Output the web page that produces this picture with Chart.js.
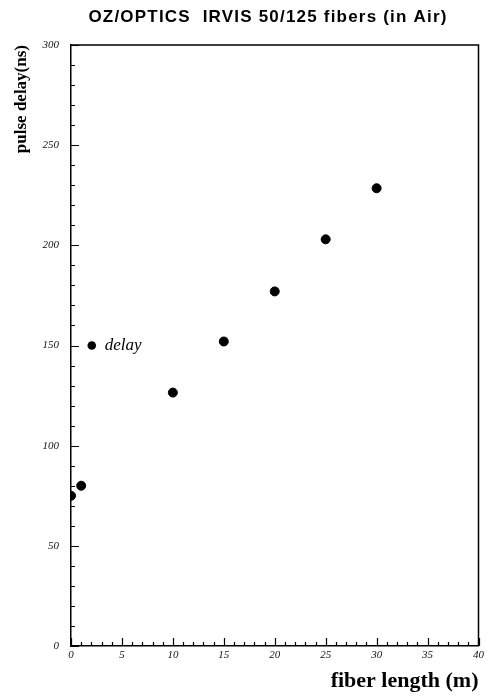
<!DOCTYPE html>
<html>
<head>
<meta charset="utf-8">
<script src="https://cdn.jsdelivr.net/npm/chart.js@4.4.0/dist/chart.umd.min.js"></script>
<style>
  html, body { margin: 0; padding: 0; background: #fff; }
  #wrap { width: 487px; height: 699px; }
</style>
</head>
<body>
<div id="wrap"><canvas id="c" width="487" height="699"></canvas></div>
<script>
// ---- data ----
const fiberLength = [0, 1, 10, 15, 20, 25, 30];      // m
const pulseDelay  = [75, 80, 126.5, 152, 177, 203, 228.5]; // ns
const seriesName = 'delay';
const chartTitle = 'OZ/OPTICS  IRVIS 50/125 fibers (in Air)';
const xTitle = 'fiber length (m)';
const yTitle = 'pulse delay(ns)';
const xRange = [0, 40];
const yRange = [0, 300];
const xMajor = 5, xMinor = 1;
const yMajor = 50, yMinor = 10;

const points = fiberLength.map((x, i) => ({ x: x, y: pulseDelay[i] }));

const framePlugin = {
  id: 'frame',
  afterDraw(chart) {
    const ctx = chart.ctx;
    const a = chart.chartArea;
    const xs = chart.scales.x, ys = chart.scales.y;
    ctx.save();
    ctx.strokeStyle = '#000';
    // top & right frame lines
    ctx.lineWidth = 1.5;
    ctx.beginPath();
    ctx.moveTo(a.left, a.top); ctx.lineTo(a.right, a.top); ctx.lineTo(a.right, a.bottom);
    ctx.stroke();
    // inward ticks
    ctx.lineWidth = 1.2;
    ctx.beginPath();
    for (let v = yRange[0]; v <= yRange[1] + 1e-9; v += yMinor) {
      const p = Math.round(ys.getPixelForValue(v)) + 0.5;
      const len = (Math.abs(v % yMajor) < 1e-9) ? 8 : 4;
      ctx.moveTo(a.left, p); ctx.lineTo(a.left + len, p);
    }
    for (let v = xRange[0]; v <= xRange[1] + 1e-9; v += xMinor) {
      const p = Math.round(xs.getPixelForValue(v)) + 0.5;
      const len = (Math.abs(v % xMajor) < 1e-9) ? 8 : 4;
      ctx.moveTo(p, a.bottom); ctx.lineTo(p, a.bottom - len);
    }
    ctx.stroke();
    // legend inside plot
    const lx = a.left + 0.051 * (a.right - a.left);
    const ly = a.top + 0.5 * (a.bottom - a.top);
    ctx.fillStyle = '#000';
    ctx.beginPath();
    ctx.arc(lx, ly, 4.3, 0, Math.PI * 2);
    ctx.fill();
    ctx.font = 'italic 17px "Liberation Serif"';
    ctx.textBaseline = 'middle';
    ctx.textAlign = 'left';
    ctx.fillText(seriesName, lx + 13, ly);
    // chart title
    ctx.font = 'bold 17px "Liberation Sans", Arial, sans-serif';
    if ('letterSpacing' in ctx) ctx.letterSpacing = '1.2px';
    ctx.textAlign = 'center';
    ctx.textBaseline = 'alphabetic';
    ctx.fillText(chartTitle, 268, 22);
    ctx.restore();
  }
};

new Chart(document.getElementById('c'), {
  type: 'scatter',
  data: {
    datasets: [{
      label: seriesName,
      data: points,
      backgroundColor: '#000',
      borderColor: '#000',
      pointRadius: 4.5,
      pointHoverRadius: 4.5,
      pointStyle: 'circle'
    }]
  },
  options: {
    responsive: false,
    animation: false,
    devicePixelRatio: 1,
    layout: { padding: { left: 0, right: 7, top: 45, bottom: 0 } },
    plugins: {
      legend: { display: false },
      tooltip: { enabled: false },
      title: { display: false }
    },
    scales: {
      x: {
        type: 'linear',
        min: xRange[0], max: xRange[1],
        grid: { display: false, drawTicks: false },
        border: { display: true, color: '#000', width: 1.5 },
        ticks: {
          stepSize: xMajor,
          padding: 3,
          color: '#111',
          maxRotation: 0,
          font: { family: '"Liberation Serif"', style: 'italic', size: 11 }
        },
        title: {
          display: true,
          text: xTitle,
          align: 'end',
          color: '#000',
          font: { family: '"Liberation Serif"', size: 22, weight: 'bold', lineHeight: 1.1 },
          padding: { top: 0, bottom: 6 }
        },
        afterFit(s) { s.height = 53; }
      },
      y: {
        min: yRange[0], max: yRange[1],
        grid: { display: false, drawTicks: false },
        border: { display: true, color: '#000', width: 1.5 },
        ticks: {
          stepSize: yMajor,
          padding: 12,
          color: '#111',
          font: { family: '"Liberation Serif"', style: 'italic', size: 11 }
        },
        title: {
          display: true,
          text: yTitle,
          align: 'end',
          color: '#000',
          font: { family: '"Liberation Serif"', size: 17, weight: 'bold', lineHeight: 1.1 },
          padding: { top: 12, bottom: 0 }
        },
        afterFit(s) { s.width = 71; }
      }
    }
  },
  plugins: [framePlugin]
});
</script>
</body>
</html>
